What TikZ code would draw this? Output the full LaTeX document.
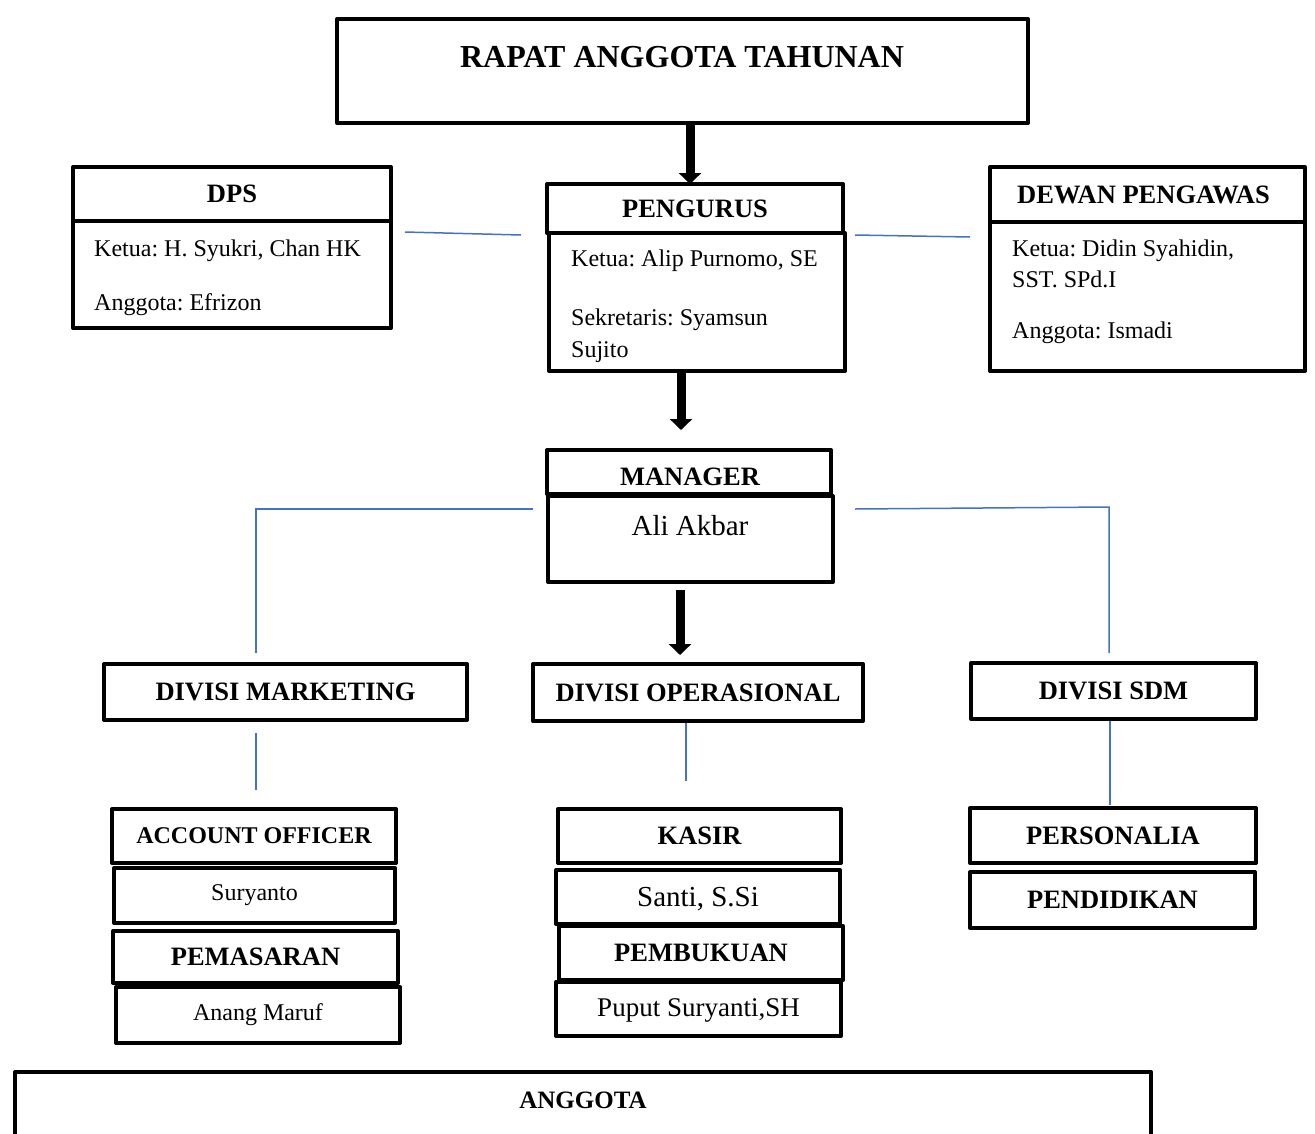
\documentclass[tikz,border=0pt]{standalone}
\usepackage{fontspec}
\setmainfont{Liberation Serif}
\usetikzlibrary{arrows.meta}
\definecolor{linkblue}{RGB}{68,114,196}
\frenchspacing
\begin{document}
\begin{tikzpicture}[x=1pt,y=-1pt,
  bx/.style={draw=black, line width=4pt, line join=round, rectangle, inner sep=0pt, outer sep=0pt, align=center},
  hd/.style={font=\fontsize{26.5}{30}\selectfont\bfseries},
  rg/.style={font=\fontsize{24}{28}\selectfont},
  big/.style={font=\fontsize{29}{32}\selectfont},
  txt/.style={inner sep=0pt, anchor=west, font=\fontsize{24}{28}\selectfont},
  link/.style={draw=linkblue, line width=1.5pt},
  bigarrow/.style={line width=9pt, -{Triangle[width=22pt,length=11pt]}}
]
\clip (0,0) rectangle (1315,1133);
\fill[white] (0,0) rectangle (1315,1133);

% Title
\node[bx, minimum width=691pt, minimum height=104pt] (title) at (682.5,71) {};
\node[inner sep=0pt, font=\fontsize{32}{36}\selectfont\bfseries] (titletxt) at (682,57) {RAPAT ANGGOTA TAHUNAN};

% DPS
\node[bx, hd, minimum width=318pt, minimum height=54pt] (dpsH) at (232,194) {DPS};
\node[bx, minimum width=318pt, minimum height=107pt] (dpsB) at (232,274.5) {};
\node[txt] (dps1) at (94,251) {Ketua: H. Syukri, Chan HK};
\node[txt] (dps2) at (94,305) {Anggota: Efrizon};

% Pengurus
\node[bx, hd, minimum width=296pt, minimum height=49pt] (pengH) at (695,208.5) {PENGURUS};
\node[bx, minimum width=296pt, minimum height=138pt] (pengB) at (697,302) {};
\node[txt] (peng1) at (571,261) {Ketua: Alip Purnomo, SE};
\node[txt] (peng2) at (571,320) {Sekretaris: Syamsun};
\node[txt] (peng3) at (571,352) {Sujito};

% Dewan Pengawas
\node[bx, hd, minimum width=315pt, minimum height=55pt] (dewH) at (1147.5,194.5) {\hspace*{-8pt}DEWAN PENGAWAS};
\node[bx, minimum width=315pt, minimum height=149pt] (dewB) at (1147.5,296.5) {};
\node[txt] (dew1) at (1012,251) {Ketua: Didin Syahidin,};
\node[txt] (dew2) at (1012,279) {SST. SPd.I};
\node[txt] (dew3) at (1012,333) {Anggota: Ismadi};

% Manager
\node[bx, minimum width=284pt, minimum height=44pt] (manH) at (689,472) {};
\node[inner sep=0pt, hd] (mantxt) at (690,477) {MANAGER};
\node[bx, minimum width=285pt, minimum height=86pt] (manB) at (690.5,539) {};
\node[inner sep=0pt, big] (ali) at (690,526) {Ali Akbar};

% Divisions
\node[bx, hd, minimum width=363pt, minimum height=56pt] (dmk) at (285.5,692) {DIVISI MARKETING};
\node[bx, hd, minimum width=330pt, minimum height=57pt] (dop) at (698,692.5) {DIVISI OPERASIONAL};
\node[bx, hd, minimum width=285pt, minimum height=56pt] (dsdm) at (1113.5,691) {DIVISI SDM};

% Marketing sub-boxes
\node[bx, minimum width=284pt, minimum height=54pt, font=\fontsize{24}{28}\selectfont\bfseries] (ao) at (254,836) {ACCOUNT OFFICER};
\node[bx, rg, minimum width=281pt, minimum height=55pt] (sur) at (254.5,895.5) {Suryanto};
\node[bx, hd, minimum width=285pt, minimum height=52pt] (pem) at (255.5,957) {PEMASARAN};
\node[bx, rg, minimum width=284pt, minimum height=56pt] (ana) at (258,1015) {Anang Maruf};

% Operasional sub-boxes
\node[bx, hd, minimum width=283pt, minimum height=54pt] (kas) at (699.5,836) {KASIR};
\node[bx, minimum width=284pt, minimum height=54pt] (san) at (698,897) {};
\node[inner sep=0pt, big] (santxt) at (698,899) {Santi, S.Si};
\node[bx, hd, minimum width=284pt, minimum height=54pt] (pbk) at (701,953) {PEMBUKUAN};
\node[bx, minimum width=285pt, minimum height=54pt] (pup) at (698.5,1009) {};
\node[inner sep=0pt, font=\fontsize{27}{30}\selectfont] (puptxt) at (698.5,1010) {Puput Suryanti,SH};

% SDM sub-boxes
\node[bx, hd, minimum width=286pt, minimum height=55pt] (pers) at (1113,835.5) {PERSONALIA};
\node[bx, hd, minimum width=285pt, minimum height=56pt] (pend) at (1112.5,900) {PENDIDIKAN};

% Anggota
\node[bx, minimum width=1136pt, minimum height=120pt] (angg) at (583,1132) {};
\node[inner sep=0pt, font=\fontsize{25}{28}\selectfont\bfseries] (anggtxt) at (583,1100) {ANGGOTA};

% Blue connectors
\coordinate (c1a) at (405,232); \coordinate (c1b) at (521,235);
\coordinate (c2a) at (855,235); \coordinate (c2b) at (970,237);
\draw[link] (c1a) -- (c1b);
\draw[link] (c2a) -- (c2b);

\coordinate (ml) at (533,509); \coordinate (mlc) at (256,509); \coordinate (mld) at (256,653);
\coordinate (mr) at (855,509); \coordinate (mrc) at (1109,507); \coordinate (mrd) at (1109,653);
\draw[link] (ml) -- (mlc) -- (mld);
\draw[link] (mr) -- (mrc) -- (mrd);

\coordinate (mk1) at (256,733); \coordinate (mk2) at (256,790);
\coordinate (op1) at (686,723); \coordinate (op2) at (686,781);
\coordinate (sd1) at (1110,721); \coordinate (sd2) at (1110,805);
\draw[link] (mk1) -- (mk2);
\draw[link] (op1) -- (op2);
\draw[link] (sd1) -- (sd2);

% Black arrows
\draw[bigarrow] ([xshift=7.5pt]title.south) -- ([xshift=7.5pt]title.south |- pengH.north);
\coordinate (a2e) at (681,430);
\draw[bigarrow] (pengB.south -| a2e) -- (a2e);
\coordinate (a3s) at (680,590); \coordinate (a3e) at (680,655);
\draw[bigarrow] (a3s) -- (a3e);
\end{tikzpicture}
\end{document}
